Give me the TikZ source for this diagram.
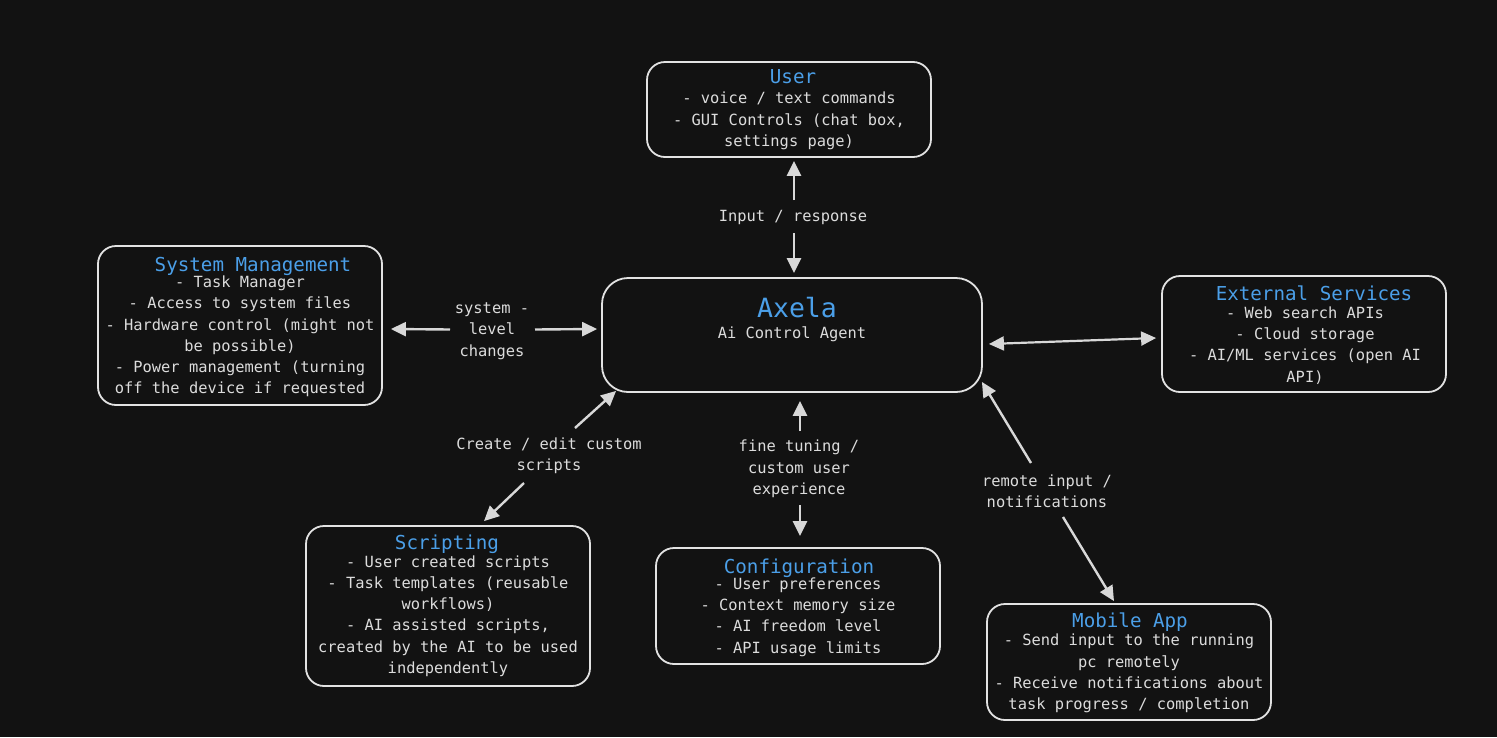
\documentclass[tikz,border=0pt]{standalone}
\usepackage{fontspec}
\setmonofont{DejaVu Sans Mono}
\usetikzlibrary{arrows.meta,calc}
\definecolor{bg}{HTML}{121212}
\definecolor{edge}{HTML}{E2E2E2}
\definecolor{fg}{HTML}{DCDCDC}
\definecolor{blu}{HTML}{4B9FE8}
\definecolor{arrc}{HTML}{D8D8D8}
\begin{document}
\begin{tikzpicture}[x=1pt,y=-1pt,
  box/.style={draw=edge, line width=1.8pt, rounded corners=18pt, minimum width=284pt, inner sep=0pt, fill=bg},
  ttl/.style={text=blu, font=\ttfamily\fontsize{19.2}{22}\selectfont, inner sep=0pt, yshift=-1pt},
  body/.style={text=fg, font=\ttfamily\fontsize{15.4}{21.3}\selectfont, align=center, inner sep=0pt, yshift=-1.5pt},
  arr/.style={draw=arrc, line width=2.4pt, -{Triangle[length=15pt,width=14pt]}},
  arrboth/.style={draw=arrc, line width=2.2pt, {Triangle[length=15pt,width=14pt]}-{Triangle[length=15pt,width=14pt]}}
]
\useasboundingbox[fill=bg] (0,0) rectangle (1497,737);

% boxes
\node[box, minimum height=95pt] (user) at (789,109.5) {};
\node[box, minimum height=159pt] (sys) at (240,325.5) {};
\node[box, minimum width=380pt, minimum height=114pt, rounded corners=26pt] (axela) at (792,335) {};
\node[box, minimum height=116pt] (ext) at (1304,334) {};
\node[box, minimum height=160pt] (scr) at (448,606) {};
\node[box, minimum height=116pt] (conf) at (798,606) {};
\node[box, minimum height=116pt] (mob) at (1129,662) {};

% titles
\node[ttl] (userT) at (793,76) {User};
\node[ttl] (sysT) at (253,265) {System Management};
\node[ttl, font=\ttfamily\fontsize{26.5}{30}\selectfont] (axelaT) at (797,307) {Axela};
\node[body] (axelaS) at (792,333) {Ai Control Agent};
\node[ttl] (extT) at (1314,292) {External Services};
\node[ttl] (scrT) at (447,543) {Scripting};
\node[ttl] (confT) at (799,567) {Configuration};
\node[ttl] (mobT) at (1130,621) {Mobile App};

% bodies
\node[body] (userB) at (789,119.5) {- voice / text commands\\- GUI Controls (chat box,\\settings page)};
\node[body] (sysB) at (240,335) {- Task Manager\\- Access to system files\\- Hardware control (might not\\be possible)\\- Power management (turning\\off the device if requested};
\node[body] (extB) at (1305,344) {- Web search APIs\\- Cloud storage\\- AI/ML services (open AI\\API)};
\node[body] (scrB) at (448,614.5) {- User created scripts\\- Task templates (reusable\\workflows)\\- AI assisted scripts,\\created by the AI to be used\\independently};
\node[body] (confB) at (798,615.5) {- User preferences\\- Context memory size\\- AI freedom level\\- API usage limits};
\node[body] (mobB) at (1129,672) {- Send input to the running\\pc remotely\\- Receive notifications about\\task progress / completion};

% connector labels
\node[body] (l1) at (793,216) {Input / response};
\node[body] (l2) at (492,329.5) {system -\\level\\changes};
\node[body] (l4) at (549,454.5) {Create / edit custom\\scripts};
\node[body] (l5) at (799,467.5) {fine tuning /\\custom user\\experience};
\node[body] (l6) at (1047,489.5) {remote input /\\notifications};

% connectors
\draw[arr] ($(l1.center)+(1,-17.5)$) -- ($(user.south)+(5,3)$);
\draw[arr] ($(l1.center)+(1,15.5)$) -- ($(axela.north)+(2,-4)$);
\draw[arr] ($(l2.center)+(-42,-1.5)$) -- ($(sys.east)+(8,3.5)$);
\draw[arr] ($(l2.center)+(43,-1.5)$) -- ($(axela.west)+(-4,-6)$);
\draw[arrboth] ($(axela.east)+(6,9)$) -- ($(ext.west)+(-5,4)$);
\draw[arr] ($(l4.center)+(26,-28)$) -- ($(axela.south west)+(15,-2)$);
\draw[arr] ($(l4.center)+(-25,27)$) -- ($(scr.north)+(36,-4)$);
\draw[arr] ($(l5.center)+(1,-38)$) -- ($(axela.south)+(8,8)$);
\draw[arr] ($(l5.center)+(1,36)$) -- ($(conf.north)+(2,-11)$);
\draw[arr] ($(l6.center)+(-16,-28)$) -- ($(axela.south east)+(-1,-11)$);
\draw[arr] ($(l6.center)+(16,26)$) -- ($(mob.north)+(-15,-2)$);
\end{tikzpicture}
\end{document}
